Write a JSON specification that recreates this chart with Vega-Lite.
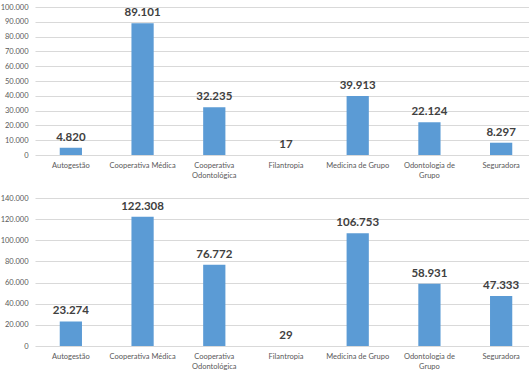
{
  "$schema": "https://vega.github.io/schema/vega-lite/v6.json",
  "padding": {"left": 0, "top": 3, "right": 0, "bottom": 0},
  "background": "white",
  "spacing": 15,
  "config": {
    "locale": {"number": {"decimal": ",", "thousands": ".", "grouping": [3], "currency": ["R$", ""]}},
    "view": {"stroke": null},
    "font": "Lato",
    "axis": {"labelFont": "Lato", "labelColor": "#595959", "labelFontSize": 7.5, "gridColor": "#d9d9d9", "domain": false, "ticks": false, "title": null}
  },
  "datasets": {
    "top": [
      {"tipo": "Autogestão", "valor": 4820},
      {"tipo": "Cooperativa Médica", "valor": 89101},
      {"tipo": "Cooperativa Odontológica", "valor": 32235},
      {"tipo": "Filantropia", "valor": 17},
      {"tipo": "Medicina de Grupo", "valor": 39913},
      {"tipo": "Odontologia de Grupo", "valor": 22124},
      {"tipo": "Seguradora", "valor": 8297}
    ],
    "bottom": [
      {"tipo": "Autogestão", "valor": 23274},
      {"tipo": "Cooperativa Médica", "valor": 122308},
      {"tipo": "Cooperativa Odontológica", "valor": 76772},
      {"tipo": "Filantropia", "valor": 29},
      {"tipo": "Medicina de Grupo", "valor": 106753},
      {"tipo": "Odontologia de Grupo", "valor": 58931},
      {"tipo": "Seguradora", "valor": 47333}
    ]
  },
  "vconcat": [
    {
      "width": 502,
      "height": 148,
      "data": {"name": "top"},
      "encoding": {
        "x": {"field": "tipo", "type": "nominal", "sort": null,
          "scale": {"paddingInner": 0.69, "paddingOuter": 0.345},
          "axis": {"labelAngle": 0, "grid": false, "labelPadding": 6, "labelLineHeight": 10,
            "labelExpr": "datum.value == 'Cooperativa Odontológica' ? ['Cooperativa', 'Odontológica'] : datum.value == 'Odontologia de Grupo' ? ['Odontologia de', 'Grupo'] : datum.value"}},
        "y": {"field": "valor", "type": "quantitative",
          "scale": {"domain": [0, 100000], "nice": false},
          "axis": {"values": [0, 10000, 20000, 30000, 40000, 50000, 60000, 70000, 80000, 90000, 100000], "format": ",d", "labelPadding": 7}}
      },
      "layer": [
        {"mark": {"type": "bar", "color": "#5b9bd5"}},
        {"mark": {"type": "text", "baseline": "bottom", "dy": -5, "fontSize": 11.5, "fontWeight": "bold", "color": "#404040", "font": "Lato"},
          "encoding": {"text": {"field": "valor", "type": "quantitative", "format": ",d"}}}
      ]
    },
    {
      "width": 502,
      "height": 148,
      "data": {"name": "bottom"},
      "encoding": {
        "x": {"field": "tipo", "type": "nominal", "sort": null,
          "scale": {"paddingInner": 0.69, "paddingOuter": 0.345},
          "axis": {"labelAngle": 0, "grid": false, "labelPadding": 6, "labelLineHeight": 10,
            "labelExpr": "datum.value == 'Cooperativa Odontológica' ? ['Cooperativa', 'Odontológica'] : datum.value == 'Odontologia de Grupo' ? ['Odontologia de', 'Grupo'] : datum.value"}},
        "y": {"field": "valor", "type": "quantitative",
          "scale": {"domain": [0, 140000], "nice": false},
          "axis": {"values": [0, 20000, 40000, 60000, 80000, 100000, 120000, 140000], "format": ",d", "labelPadding": 7}}
      },
      "layer": [
        {"mark": {"type": "bar", "color": "#5b9bd5"}},
        {"mark": {"type": "text", "baseline": "bottom", "dy": -5, "fontSize": 11.5, "fontWeight": "bold", "color": "#404040", "font": "Lato"},
          "encoding": {"text": {"field": "valor", "type": "quantitative", "format": ",d"}}}
      ]
    }
  ]
}
